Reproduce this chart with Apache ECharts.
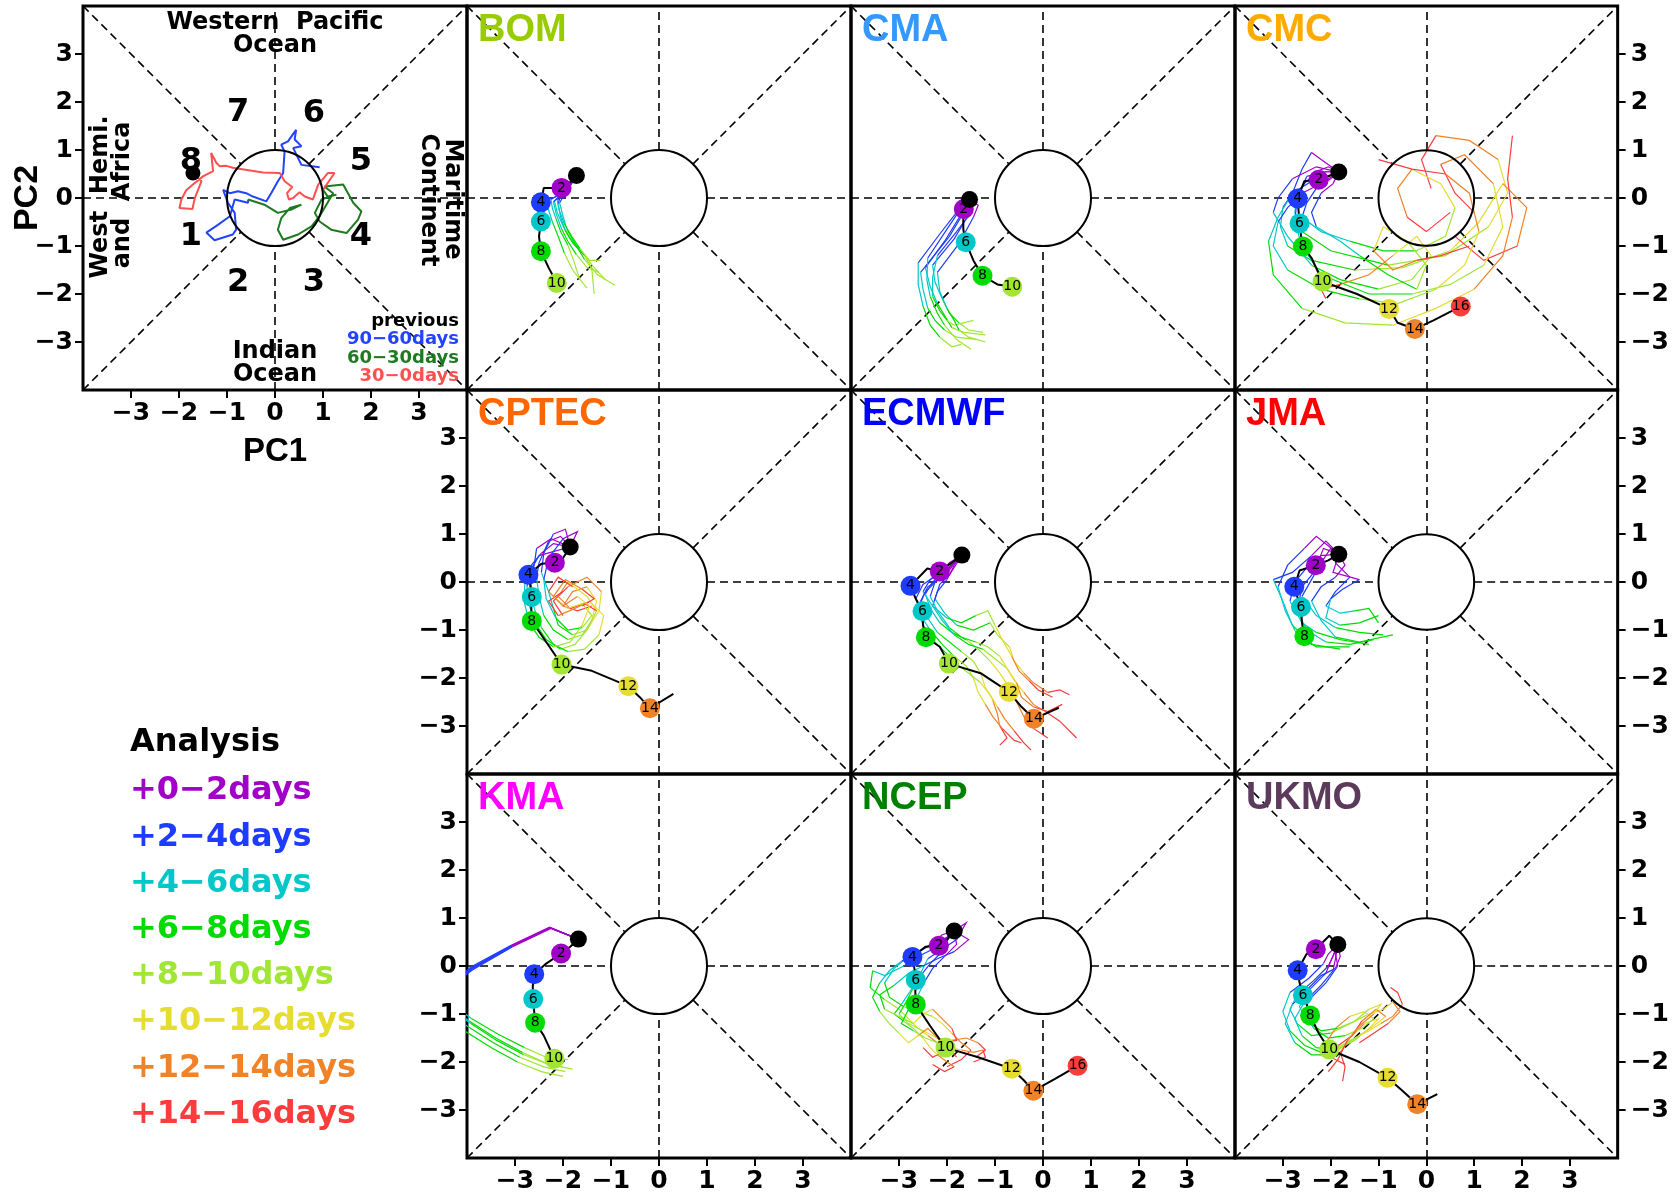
<!DOCTYPE html>
<html lang="en">
<head>
<meta charset="UTF-8">
<title>MJO phase diagram - ensemble forecasts</title>
<script src="https://cdn.jsdelivr.net/npm/echarts@6/dist/echarts.min.js"></script>
<style>
    html, body { margin: 0; padding: 0; background: #fff; }
    #container { width: 1672px; height: 1196px; }
</style>
</head>
<body>
<div id="container"></div>
<script>
    // lead-time colours: +0-2, +2-4, ... +14-16 days
    var leadColors = ['#a000c8', '#1e3cff', '#00c8c8', '#00dc00', '#a0e632', '#e6dc32', '#f08228', '#fa3c3c'];
    var leadLabels = ['+0\u22122days', '+2\u22124days', '+4\u22126days', '+6\u22128days',
                      '+8\u221210days', '+10\u221212days', '+12\u221214days', '+14\u221216days'];
    var tickValues = [-3, -2, -1, 0, 1, 2, 3];

    // phase numbers of the top-left diagram
    var phaseNames = ['1', '2', '3', '4', '5', '6', '7', '8'];
    var phaseX = [-1.75, -0.77, 0.81, 1.79, 1.79, 0.81, -0.77, -1.75];
    var phaseY = [-0.81, -1.77, -1.77, -0.81, 0.75, 1.75, 1.77, 0.75];

    // observed RMM index, previous 90 days
    var obsBlue = [[0.93,0.64],[0.55,0.69],[0.38,1.04],[0.55,1.08],[0.41,1.22],[0.44,1.42],[0.27,1.18],[0.13,1.11],[0.20,0.97],[0.17,0.52],[0.06,0.35],[-0.08,0.10],[-0.18,-0.07],[-0.46,0.03],[-0.60,0.10],[-0.77,0.14],[-0.94,0.10],[-1.08,0.17],[-0.98,-0.10],[-0.84,-0.31],[-0.81,-0.66],[-0.88,-0.76],[-1.26,-0.88],[-1.43,-0.72],[-1.19,-0.56],[-0.94,-0.38],[-0.84,-0.03],[-0.56,-0.10],[-0.56,-0.03]];
    var obsGreen = [[-0.56,-0.03],[-0.22,-0.14],[0.06,-0.31],[0.34,-0.24],[0.55,-0.14],[0.31,-0.21],[0.13,-0.42],[0.06,-0.66],[0.17,-0.87],[0.48,-0.76],[0.76,-0.59],[0.93,-0.38],[1.21,0.10],[1.03,0.24],[1.42,0.28],[1.63,-0.10],[1.80,-0.28],[1.73,-0.45],[1.49,-0.73],[1.17,-0.66],[0.93,-0.49],[0.83,-0.31],[0.97,-0.03],[1.14,0.03],[1.28,0.07],[1.10,0.03],[1.00,0.17]];
    var obsRed = [[1.00,0.17],[1.24,0.52],[1.10,0.52],[0.90,0.28],[0.79,-0.03],[0.62,0.03],[0.51,0.12],[0.38,0.00],[0.29,-0.03],[0.25,0.10],[0.36,0.23],[0.20,0.35],[0.10,0.52],[-0.25,0.53],[-0.88,0.63],[-1.01,0.67],[-1.15,0.66],[-1.22,0.73],[-1.33,0.94],[-1.36,0.94],[-1.29,0.56],[-1.50,0.45],[-1.71,0.28],[-1.85,0.16],[-1.95,-0.03],[-1.99,-0.21],[-1.72,-0.23],[-1.67,0.00],[-1.53,0.35],[-1.71,0.52]];

    var models = ['BOM', 'CMA', 'CMC', 'CPTEC', 'ECMWF', 'JMA', 'KMA', 'NCEP', 'UKMO'];
    var modelColors = ['#99cc00', '#3399ff', '#ffaa00', '#ff6600', '#0000ff', '#ff0000', '#ff00ff', '#008000', '#5c3a5c'];

    // BOM
    var bomAnalysis = [[-1.72,0.47],[-1.88,0.30],[-2.03,0.21],[-2.40,0.21],[-2.46,-0.09],[-2.46,-0.30],[-2.46,-0.49],[-2.50,-0.80],[-2.46,-1.11],[-2.30,-1.45],[-2.13,-1.77]];
    var bomMarks = [2, 4, 6, 8, 10];
    var bomMembers = [
        [[-1.72,0.47],[-1.83,0.31],[-1.95,0.17],[-2.10,0.06],[-2.25,-0.03],[-2.22,-0.22],[-2.15,-0.42],[-2.05,-0.70],[-1.90,-0.98],[-1.78,-1.30],[-1.65,-1.70]],
        [[-1.72,0.47],[-1.83,0.30],[-1.95,0.15],[-2.05,0.03],[-2.18,-0.06],[-2.12,-0.30],[-2.00,-0.58],[-1.85,-0.85],[-1.60,-1.12],[-1.38,-1.42],[-1.12,-1.70]],
        [[-1.72,0.47],[-1.82,0.32],[-1.93,0.14],[-2.00,0.02],[-2.07,-0.10],[-2.00,-0.38],[-1.92,-0.65],[-1.75,-0.95],[-1.55,-1.28],[-1.28,-1.60],[-0.92,-1.82]],
        [[-1.72,0.47],[-1.84,0.31],[-1.98,0.13],[-2.20,0.00],[-2.37,-0.04],[-2.30,-0.25],[-2.22,-0.50],[-2.10,-0.80],[-1.97,-1.15],[-1.80,-1.50],[-1.50,-1.88]],
        [[-1.72,0.47],[-1.84,0.30],[-1.96,0.12],[-2.07,-0.01],[-2.10,-0.12],[-2.05,-0.40],[-1.95,-0.68],[-1.78,-0.96],[-1.55,-1.20],[-1.40,-1.48],[-1.35,-2.00]],
        [[-1.72,0.47],[-1.83,0.31],[-1.94,0.16],[-2.08,0.04],[-2.20,-0.08],[-2.14,-0.33],[-2.04,-0.62],[-1.90,-0.90],[-1.72,-1.18],[-1.50,-1.45],[-1.25,-1.55]],
        [[-1.72,0.47],[-1.82,0.30],[-1.92,0.15],[-2.02,0.05],[-2.12,-0.05],[-2.08,-0.25],[-1.98,-0.52],[-1.82,-0.80],[-1.65,-1.05],[-1.45,-1.30],[-1.22,-1.30]]
    ];

    // CMA
    var cmaAnalysis = [[-1.53,-0.03],[-1.60,-0.12],[-1.65,-0.23],[-1.66,-0.45],[-1.66,-0.65],[-1.64,-0.78],[-1.61,-0.92],[-1.45,-1.30],[-1.26,-1.62],[-0.95,-1.80],[-0.64,-1.85]];
    var cmaMarks = [2, 6, 8, 10];
    var cmaMembers = [
        [[-1.53,-0.03],[-1.55,0.05],[-1.62,-0.25],[-1.95,-0.80],[-2.55,-1.55],[-2.50,-1.90],[-2.40,-2.30],[-2.25,-2.55],[-2.05,-2.75],[-1.80,-2.90],[-1.35,-2.95]],
        [[-1.53,-0.03],[-1.58,-0.10],[-1.68,-0.30],[-2.05,-0.90],[-2.45,-1.45],[-2.35,-1.85],[-2.20,-2.20],[-2.05,-2.45],[-1.90,-2.70],[-1.65,-2.80],[-1.20,-2.85]],
        [[-1.53,-0.03],[-1.50,-0.10],[-1.55,-0.35],[-1.85,-0.85],[-2.30,-1.40],[-2.25,-1.75],[-2.10,-2.10],[-1.95,-2.40],[-1.75,-2.60],[-1.55,-2.75],[-1.25,-2.80]],
        [[-1.53,-0.03],[-1.65,-0.15],[-1.80,-0.30],[-2.15,-0.75],[-2.60,-1.35],[-2.60,-1.80],[-2.50,-2.25],[-2.35,-2.65],[-2.15,-2.90],[-1.90,-3.10],[-1.70,-3.05]],
        [[-1.53,-0.03],[-1.45,-0.05],[-1.48,-0.28],[-1.80,-0.70],[-2.20,-1.20],[-2.30,-1.65],[-2.30,-2.05],[-2.15,-2.35],[-2.00,-2.55],[-1.85,-2.65],[-1.45,-2.55]],
        [[-1.53,-0.03],[-1.60,0.10],[-1.70,-0.20],[-2.00,-0.65],[-2.40,-1.25],[-2.42,-1.70],[-2.35,-2.05],[-2.20,-2.40],[-2.05,-2.65],[-1.80,-2.95],[-1.50,-3.15]],
        [[-1.53,-0.03],[-1.35,-0.15],[-1.45,-0.40],[-1.75,-0.95],[-2.20,-1.55],[-2.15,-1.95],[-2.00,-2.30],[-1.85,-2.55],[-1.75,-2.75],[-1.55,-2.90],[-1.20,-3.00]]
    ];

    // CMC
    var cmcAnalysis = [[-1.83,0.54],[-2.05,0.45],[-2.25,0.38],[-2.55,0.35],[-2.69,-0.01],[-2.67,-0.28],[-2.65,-0.53],[-2.62,-0.78],[-2.58,-1.01],[-2.40,-1.25],[-2.17,-1.74],[-1.45,-2.00],[-0.78,-2.31],[-0.60,-2.60],[-0.24,-2.73],[0.15,-2.55],[0.72,-2.26]];
    var cmcMarks = [2, 4, 6, 8, 10, 12, 14, 16];
    var cmcMembers = [
        [[-1.83,0.54],[-2.05,0.65],[-2.30,0.55],[-2.55,0.30],[-2.70,0.05],[-2.75,-0.30],[-2.60,-0.70],[-2.00,-1.10],[-0.80,-1.40],[0.40,-1.20],[1.30,-0.60],[1.70,0.10],[1.50,0.80],[0.90,1.20],[0.20,1.30],[-0.10,0.80],[0.10,0.20]],
        [[-1.83,0.54],[-2.10,0.45],[-2.40,0.35],[-2.80,0.10],[-3.00,-0.20],[-3.05,-0.60],[-2.90,-1.00],[-2.40,-1.30],[-1.50,-1.50],[-0.50,-1.45],[0.50,-1.10],[1.10,-0.50],[1.60,0.30],[2.10,-0.20],[1.90,-1.00],[1.20,-1.30],[0.60,-0.80]],
        [[-1.83,0.54],[-2.20,0.80],[-2.40,0.95],[-2.60,0.60],[-2.80,0.10],[-3.10,-0.40],[-3.30,-0.90],[-3.20,-1.60],[-2.60,-2.30],[-1.70,-2.60],[-0.70,-2.65],[0.20,-2.30],[1.00,-1.90],[1.60,-1.20],[1.80,-0.40],[1.70,0.40],[1.80,1.30]],
        [[-1.83,0.54],[-2.00,0.40],[-2.30,0.20],[-2.50,-0.10],[-2.60,-0.40],[-2.20,-0.70],[-1.60,-0.90],[-0.90,-1.10],[-0.20,-1.10],[0.40,-0.80],[0.60,-0.20],[0.30,0.30],[-0.30,0.60],[-0.60,0.20],[-0.40,-0.40],[0.00,-0.70],[0.50,-0.30]],
        [[-1.83,0.54],[-2.30,0.65],[-2.80,0.40],[-3.10,0.00],[-3.20,-0.30],[-2.90,-0.80],[-2.40,-1.40],[-1.80,-1.70],[-1.00,-1.90],[-0.30,-1.70],[0.10,-1.20],[-0.20,-0.80],[-0.70,-1.20],[-1.20,-1.60],[-1.80,-1.80],[-2.20,-1.90],[-2.10,-2.10]],
        [[-1.83,0.54],[-2.10,0.55],[-2.50,0.45],[-2.70,0.00],[-2.75,-0.50],[-2.60,-1.00],[-2.20,-1.60],[-1.20,-2.00],[-0.30,-2.00],[0.50,-1.80],[1.20,-1.40],[1.60,-0.60],[1.40,0.30],[0.80,0.90],[0.30,0.70],[0.60,0.10],[1.00,-0.30]],
        [[-1.83,0.54],[-1.95,0.30],[-2.20,0.10],[-2.40,-0.30],[-2.30,-0.60],[-1.80,-0.90],[-1.40,-1.20],[-0.80,-1.60],[-0.20,-1.90],[0.00,-1.40],[-0.40,-0.90],[-0.90,-0.60],[-1.10,-1.10],[-0.70,-1.50],[-0.20,-1.30],[0.30,-1.20],[0.90,-1.00]],
        [[-1.83,0.54],[-2.20,0.30],[-2.60,0.10],[-2.90,-0.20],[-3.10,-0.50],[-3.20,-1.00],[-2.90,-1.50],[-2.20,-1.90],[-1.40,-2.10],[-0.60,-2.20],[0.20,-1.90],[0.80,-1.40],[1.10,-0.70],[0.90,0.10],[0.40,0.50],[-0.30,0.60],[-1.00,0.80]]
    ];

    // CPTEC
    var cptecAnalysis = [[-1.85,0.73],[-2.00,0.50],[-2.17,0.40],[-2.45,0.38],[-2.72,0.15],[-2.68,-0.08],[-2.65,-0.31],[-2.66,-0.55],[-2.65,-0.81],[-2.35,-1.25],[-2.03,-1.72],[-1.40,-1.85],[-0.64,-2.17],[-0.40,-2.40],[-0.19,-2.63],[0.30,-2.33]];
    var cptecMarks = [2, 4, 6, 8, 10, 12, 14];
    var cptecMembers = [
        [[-1.85,0.73],[-2.05,0.95],[-2.30,0.85],[-2.50,0.40],[-2.55,0.10],[-2.50,-0.30],[-2.40,-0.70],[-2.20,-1.00],[-1.90,-1.20],[-1.60,-1.10],[-1.40,-0.80],[-1.30,-0.40],[-1.50,-0.10],[-1.80,-0.20],[-2.00,-0.50],[-1.70,-0.60],[-1.40,-0.50]],
        [[-1.85,0.73],[-2.20,0.80],[-2.45,0.60],[-2.70,0.30],[-2.75,-0.10],[-2.70,-0.50],[-2.55,-0.90],[-2.35,-1.20],[-2.05,-1.40],[-1.75,-1.30],[-1.50,-1.00],[-1.25,-0.60],[-1.20,-0.20],[-1.50,0.10],[-1.90,-0.10],[-2.20,-0.40],[-2.00,-0.70]],
        [[-1.85,0.73],[-1.95,1.10],[-2.20,1.00],[-2.40,0.60],[-2.45,0.20],[-2.30,-0.20],[-2.20,-0.55],[-2.10,-0.90],[-1.80,-1.10],[-1.50,-1.00],[-1.30,-0.60],[-1.50,-0.30],[-1.90,0.00],[-2.10,-0.30],[-1.85,-0.55],[-1.55,-0.45],[-1.30,-0.60]],
        [[-1.85,0.73],[-2.15,0.65],[-2.50,0.55],[-2.70,0.20],[-2.65,-0.20],[-2.60,-0.55],[-2.45,-0.95],[-2.20,-1.30],[-1.90,-1.45],[-1.55,-1.40],[-1.25,-1.10],[-1.15,-0.70],[-1.45,-0.40],[-1.75,-0.55],[-2.10,-0.70],[-2.30,-0.40],[-2.00,-0.20]],
        [[-1.85,0.73],[-1.70,1.05],[-2.00,0.90],[-2.30,0.50],[-2.40,0.05],[-2.35,-0.35],[-2.15,-0.75],[-1.90,-1.00],[-1.60,-0.95],[-1.40,-0.70],[-1.60,-0.45],[-1.90,-0.55],[-2.20,-0.30],[-1.95,0.05],[-1.60,-0.15],[-1.35,-0.35],[-1.60,-0.50]],
        [[-1.85,0.73],[-2.25,0.90],[-2.55,0.70],[-2.60,0.35],[-2.80,-0.05],[-2.80,-0.45],[-2.70,-0.85],[-2.50,-1.15],[-2.20,-1.35],[-1.85,-1.25],[-1.60,-0.90],[-1.45,-0.50],[-1.70,-0.30],[-2.00,-0.50],[-2.30,-0.20],[-2.10,0.10],[-1.80,-0.10]]
    ];

    // ECMWF
    var ecmwfAnalysis = [[-1.69,0.56],[-1.90,0.40],[-2.15,0.22],[-2.41,0.28],[-2.76,-0.08],[-2.65,-0.35],[-2.51,-0.61],[-2.50,-0.90],[-2.44,-1.15],[-2.15,-1.35],[-1.96,-1.70],[-1.30,-1.90],[-0.71,-2.29],[-0.45,-2.60],[-0.19,-2.85],[0.33,-2.62]];
    var ecmwfMarks = [2, 4, 6, 8, 10, 12, 14];
    var ecmwfMembers = [
        [[-1.69,0.56],[-1.85,0.40],[-2.05,0.20],[-2.30,0.00],[-2.45,-0.25],[-2.35,-0.55],[-2.15,-0.85],[-1.90,-1.05],[-1.60,-1.20],[-1.35,-1.40],[-1.10,-1.65],[-0.90,-1.90],[-0.70,-2.20],[-0.55,-2.50],[-0.40,-2.80],[-0.20,-3.05],[0.10,-3.25]],
        [[-1.69,0.56],[-1.90,0.35],[-2.10,0.10],[-2.40,-0.10],[-2.55,-0.40],[-2.40,-0.75],[-2.20,-1.05],[-1.95,-1.25],[-1.70,-1.45],[-1.45,-1.65],[-1.30,-1.90],[-1.20,-2.20],[-1.05,-2.45],[-0.95,-2.75],[-0.90,-3.00],[-0.75,-3.25],[-0.90,-3.40]],
        [[-1.69,0.56],[-1.80,0.38],[-1.95,0.15],[-2.15,-0.05],[-2.25,-0.35],[-2.05,-0.65],[-1.80,-0.90],[-1.45,-1.00],[-1.10,-0.85],[-0.95,-1.10],[-0.70,-1.35],[-0.60,-1.65],[-0.40,-1.90],[-0.20,-2.10],[0.10,-2.30],[0.35,-2.25],[0.55,-2.35]],
        [[-1.69,0.56],[-1.95,0.40],[-2.20,0.15],[-2.50,-0.05],[-2.65,-0.35],[-2.55,-0.70],[-2.35,-1.00],[-2.10,-1.30],[-1.85,-1.55],[-1.60,-1.75],[-1.45,-2.00],[-1.35,-2.30],[-1.20,-2.55],[-1.05,-2.80],[-0.85,-3.05],[-0.60,-3.30],[-0.45,-3.35]],
        [[-1.69,0.56],[-1.85,0.35],[-2.00,0.05],[-2.20,-0.20],[-2.30,-0.50],[-2.10,-0.80],[-1.85,-1.10],[-1.55,-1.30],[-1.25,-1.40],[-1.00,-1.60],[-0.75,-1.80],[-0.60,-2.05],[-0.40,-2.30],[-0.20,-2.55],[0.05,-2.70],[0.35,-2.90],[0.70,-3.25]],
        [[-1.69,0.56],[-1.88,0.42],[-2.12,0.25],[-2.35,0.05],[-2.50,-0.20],[-2.30,-0.50],[-2.00,-0.75],[-1.70,-0.85],[-1.40,-0.70],[-1.15,-0.60],[-1.00,-0.90],[-0.85,-1.20],[-0.65,-1.55],[-0.50,-1.85],[-0.30,-2.05],[-0.10,-2.25],[0.20,-2.40]],
        [[-1.69,0.56],[-1.92,0.35],[-2.18,0.05],[-2.45,-0.20],[-2.60,-0.55],[-2.50,-0.90],[-2.30,-1.20],[-2.05,-1.45],[-1.80,-1.70],[-1.55,-1.90],[-1.30,-2.10],[-1.10,-2.35],[-0.95,-2.60],[-0.80,-2.85],[-0.60,-3.10],[-0.40,-3.35],[-0.25,-3.50]],
        [[-1.69,0.56],[-1.82,0.42],[-2.00,0.18],[-2.25,0.00],[-2.35,-0.30],[-2.20,-0.60],[-1.95,-0.95],[-1.70,-1.15],[-1.40,-1.25],[-1.15,-1.35],[-0.90,-1.55],[-0.75,-1.80],[-0.55,-2.10],[-0.45,-2.40],[-0.20,-2.60],[0.10,-2.70],[0.40,-2.55]]
    ];

    // JMA
    var jmaAnalysis = [[-1.83,0.58],[-2.05,0.45],[-2.31,0.35],[-2.65,0.24],[-2.76,-0.10],[-2.70,-0.30],[-2.62,-0.52],[-2.60,-0.85],[-2.55,-1.13]];
    var jmaMarks = [2, 4, 6, 8];
    var jmaMembers = [
        [[-1.83,0.58],[-2.10,0.85],[-2.40,0.55],[-2.80,0.20],[-3.20,0.05],[-3.00,-0.40],[-2.80,-0.90],[-2.40,-1.30],[-1.80,-1.40]],
        [[-1.83,0.58],[-2.00,0.70],[-2.20,0.40],[-2.40,0.05],[-2.60,-0.30],[-2.30,-0.70],[-1.90,-0.95],[-1.40,-1.05],[-0.90,-1.10]],
        [[-1.83,0.58],[-1.70,0.35],[-1.90,0.10],[-2.20,-0.10],[-2.40,-0.40],[-2.20,-0.80],[-1.90,-1.15],[-1.40,-1.25],[-0.70,-1.10]],
        [[-1.83,0.58],[-2.30,0.95],[-2.55,0.70],[-2.90,0.35],[-3.10,-0.10],[-2.95,-0.60],[-2.70,-1.10],[-2.30,-1.35],[-1.60,-1.35]],
        [[-1.83,0.58],[-1.90,0.40],[-1.60,0.10],[-1.90,-0.20],[-2.10,-0.50],[-1.80,-0.65],[-1.50,-0.60],[-1.20,-0.55],[-1.00,-0.85]],
        [[-1.83,0.58],[-2.20,0.55],[-2.50,0.30],[-2.75,0.00],[-2.85,-0.40],[-2.60,-0.85],[-2.30,-1.05],[-1.80,-1.20],[-1.20,-1.30]],
        [[-1.83,0.58],[-1.95,0.20],[-1.40,0.05],[-1.75,-0.15],[-2.00,-0.35],[-2.10,-0.75],[-1.80,-0.90],[-1.40,-0.85],[-1.00,-0.70]],
        [[-1.83,0.58],[-2.15,0.70],[-2.35,0.20],[-2.60,-0.10],[-2.70,-0.60],[-2.50,-1.00],[-2.10,-1.25],[-1.60,-1.30],[-1.10,-1.20]]
    ];

    // KMA
    var kmaAnalysis = [[-1.68,0.56],[-1.85,0.40],[-2.04,0.26],[-2.35,0.05],[-2.60,-0.17],[-2.63,-0.43],[-2.62,-0.69],[-2.60,-0.95],[-2.58,-1.18],[-2.40,-1.45],[-2.18,-1.93]];
    var kmaMarks = [2, 4, 6, 8, 10];
    var kmaMembers = [
        [[-1.68,0.56],[-2.27,0.80],[-3.07,0.42],[-3.90,-0.05],[-4.40,-0.45],[-4.35,-0.85],[-3.95,-1.15],[-3.40,-1.50],[-2.85,-1.80],[-2.40,-2.00],[-2.00,-2.10]],
        [[-1.68,0.56],[-2.25,0.78],[-3.05,0.40],[-3.88,-0.08],[-4.45,-0.50],[-4.40,-0.95],[-4.00,-1.25],[-3.45,-1.60],[-2.90,-1.90],[-2.40,-2.10],[-1.95,-2.20]],
        [[-1.68,0.56],[-2.28,0.81],[-3.08,0.43],[-3.92,-0.02],[-4.35,-0.40],[-4.30,-0.80],[-3.90,-1.10],[-3.35,-1.42],[-2.80,-1.70],[-2.35,-1.90],[-1.90,-1.95]],
        [[-1.68,0.56],[-2.26,0.79],[-3.06,0.41],[-3.89,-0.06],[-4.50,-0.55],[-4.45,-1.00],[-4.05,-1.35],[-3.50,-1.70],[-2.95,-2.00],[-2.45,-2.20],[-2.00,-2.30]],
        [[-1.68,0.56],[-2.27,0.80],[-3.07,0.42],[-3.91,-0.04],[-4.38,-0.48],[-4.32,-0.90],[-3.92,-1.20],[-3.38,-1.55],[-2.82,-1.85],[-2.30,-2.05],[-1.80,-2.15]]
    ];

    // NCEP
    var ncepAnalysis = [[-1.85,0.73],[-2.00,0.55],[-2.17,0.42],[-2.45,0.40],[-2.72,0.19],[-2.68,-0.05],[-2.65,-0.29],[-2.66,-0.55],[-2.65,-0.80],[-2.35,-1.25],[-2.03,-1.70],[-1.35,-1.90],[-0.65,-2.14],[-0.40,-2.38],[-0.20,-2.60],[0.25,-2.35],[0.72,-2.08]];
    var ncepMarks = [2, 4, 6, 8, 10, 12, 14, 16];
    var ncepMembers = [
        [[-1.85,0.73],[-1.75,0.85],[-2.00,0.60],[-2.40,0.40],[-2.80,0.20],[-3.10,-0.05],[-3.30,-0.35],[-3.20,-0.65],[-2.90,-0.85],[-2.60,-0.95],[-2.30,-1.05],[-2.10,-1.20],[-1.90,-1.40],[-1.70,-1.60],[-1.50,-1.75],[-1.70,-1.95],[-2.00,-2.10]],
        [[-1.85,0.73],[-2.05,0.55],[-2.30,0.35],[-2.60,0.20],[-2.90,0.00],[-3.30,-0.20],[-3.55,-0.10],[-3.60,-0.45],[-3.30,-0.70],[-3.00,-0.90],[-2.80,-1.10],[-2.60,-1.30],[-2.40,-1.45],[-2.20,-1.60],[-2.10,-1.80],[-2.30,-1.90],[-2.50,-1.70]],
        [[-1.85,0.73],[-1.60,0.90],[-1.80,0.55],[-2.10,0.35],[-2.40,0.15],[-2.55,-0.15],[-2.70,-0.45],[-2.85,-0.75],[-3.00,-1.00],[-2.80,-1.20],[-2.50,-1.35],[-2.20,-1.50],[-1.90,-1.55],[-1.60,-1.50],[-1.35,-1.60],[-1.20,-1.75],[-1.40,-1.90]],
        [[-1.85,0.73],[-1.95,0.60],[-2.15,0.25],[-2.35,0.05],[-2.55,-0.20],[-2.75,-0.50],[-2.95,-0.80],[-3.10,-1.00],[-2.90,-1.15],[-2.70,-1.30],[-2.50,-1.50],[-2.35,-1.70],[-2.20,-1.85],[-2.00,-2.00],[-1.85,-2.10],[-2.05,-2.20],[-2.30,-2.05]],
        [[-1.85,0.73],[-1.55,0.55],[-1.85,0.30],[-2.20,0.15],[-2.50,0.00],[-2.80,-0.15],[-3.10,-0.40],[-3.40,-0.60],[-3.30,-0.90],[-3.00,-1.05],[-2.70,-1.20],[-2.50,-1.00],[-2.30,-0.90],[-2.10,-1.10],[-1.90,-1.30],[-1.80,-1.55],[-2.10,-1.60]],
        [[-1.85,0.73],[-2.10,0.65],[-2.35,0.45],[-2.65,0.25],[-2.95,0.10],[-3.20,-0.10],[-3.40,-0.35],[-3.55,-0.65],[-3.40,-0.95],[-3.20,-1.20],[-3.00,-1.40],[-2.80,-1.60],[-2.60,-1.45],[-2.40,-1.30],[-2.20,-1.50],[-2.00,-1.70],[-1.80,-1.90]],
        [[-1.85,0.73],[-1.80,0.45],[-2.05,0.20],[-2.30,-0.05],[-2.45,-0.30],[-2.60,-0.60],[-2.80,-0.90],[-2.95,-1.20],[-2.70,-1.35],[-2.45,-1.50],[-2.20,-1.60],[-1.95,-1.70],[-1.70,-1.75],[-1.45,-1.80],[-1.25,-1.75],[-1.20,-1.90],[-1.45,-2.00]]
    ];

    // UKMO
    var ukmoAnalysis = [[-1.85,0.45],[-2.03,0.63],[-2.31,0.35],[-2.51,0.24],[-2.69,-0.09],[-2.65,-0.35],[-2.58,-0.61],[-2.50,-0.80],[-2.43,-1.03],[-2.25,-1.40],[-2.03,-1.74],[-1.40,-2.00],[-0.81,-2.33],[-0.50,-2.60],[-0.19,-2.88],[0.23,-2.67]];
    var ukmoMarks = [2, 4, 6, 8, 10, 12, 14];
    var ukmoMembers = [
        [[-1.85,0.45],[-1.95,0.20],[-2.05,0.00],[-2.35,-0.30],[-2.70,-0.60],[-2.85,-0.90],[-2.70,-1.20],[-2.40,-1.45],[-2.00,-1.40],[-1.60,-1.20],[-1.20,-1.00],[-0.90,-0.90],[-0.70,-0.75],[-0.55,-0.95],[-0.80,-1.20],[-1.10,-1.40],[-1.40,-1.60]],
        [[-1.85,0.45],[-1.90,0.15],[-1.95,-0.10],[-2.20,-0.40],[-2.55,-0.75],[-2.75,-1.10],[-2.60,-1.45],[-2.30,-1.70],[-1.90,-1.75],[-1.50,-1.55],[-1.20,-1.30],[-1.00,-1.10],[-1.30,-1.20],[-1.60,-1.50],[-1.80,-1.80],[-1.70,-2.10],[-1.75,-2.40]],
        [[-1.85,0.45],[-2.05,0.25],[-2.15,0.05],[-2.45,-0.25],[-2.85,-0.55],[-3.00,-0.95],[-2.85,-1.35],[-2.55,-1.65],[-2.20,-1.80],[-1.85,-1.70],[-1.50,-1.50],[-1.20,-1.35],[-0.95,-1.20],[-0.70,-1.05],[-0.50,-0.80],[-0.60,-0.55],[-0.75,-0.45]],
        [[-1.85,0.45],[-1.90,0.25],[-1.85,0.00],[-2.10,-0.35],[-2.45,-0.70],[-2.55,-1.00],[-2.35,-1.30],[-2.05,-1.50],[-1.70,-1.45],[-1.35,-1.30],[-1.10,-1.10],[-1.30,-0.95],[-1.60,-1.05],[-1.90,-1.30],[-2.10,-1.60],[-2.00,-1.90],[-1.70,-2.05]],
        [[-1.85,0.45],[-2.00,0.10],[-2.10,-0.15],[-2.40,-0.45],[-2.80,-0.80],[-2.95,-1.20],[-2.75,-1.60],[-2.40,-1.85],[-2.00,-1.85],[-1.70,-1.65],[-1.40,-1.45],[-1.10,-1.25],[-0.85,-1.05],[-1.05,-0.90],[-1.35,-1.15],[-1.55,-1.45],[-1.90,-1.70]],
        [[-1.85,0.45],[-1.80,0.20],[-1.90,-0.05],[-2.20,-0.20],[-2.50,-0.50],[-2.65,-0.85],[-2.50,-1.15],[-2.20,-1.35],[-1.85,-1.30],[-1.50,-1.15],[-1.20,-0.90],[-0.95,-0.80],[-1.10,-1.00],[-1.40,-1.25],[-1.65,-1.55],[-1.85,-1.95],[-2.05,-2.20]]
    ];

    var analyses = [bomAnalysis, cmaAnalysis, cmcAnalysis, cptecAnalysis, ecmwfAnalysis, jmaAnalysis, kmaAnalysis, ncepAnalysis, ukmoAnalysis];
    var members = [bomMembers, cmaMembers, cmcMembers, cptecMembers, ecmwfMembers, jmaMembers, kmaMembers, ncepMembers, ukmoMembers];
    var marks = [bomMarks, cmaMarks, cmcMarks, cptecMarks, ecmwfMarks, jmaMarks, kmaMarks, ncepMarks, ukmoMarks];

    // dashed phase boundaries, drawn outside the unit circle
    var guideSegments = [
        [[-4, 0], [-1, 0]], [[1, 0], [4, 0]], [[0, -4], [0, -1]], [[0, 1], [0, 4]],
        [[-4, -4], [-0.707, -0.707]], [[0.707, 0.707], [4, 4]],
        [[-4, 4], [-0.707, 0.707]], [[0.707, -0.707], [4, -4]]
    ];

    //初始化
    var chart = echarts.init(document.getElementById('container'));

    var SIZE = 384, LEFT0 = 83, TOP0 = 6;
    var grids = [], xAxes = [], yAxes = [], series = [];

    function fmt(v)
    {
        return v < 0 ? '\u2212' + Math.abs(v) : String(v);
    }

    function labelStyle(show, margin)
    {
        return {
            show: show, customValues: tickValues, margin: margin, formatter: fmt,
            color: '#000', fontFamily: 'DejaVu Sans', fontWeight: 'bold', fontSize: 25
        };
    }

    function tickStyle(show)
    {
        return { show: show, customValues: tickValues, length: 8, lineStyle: { color: '#000', width: 2 } };
    }

    function addPanel(idx, col, row, yPos, showY, showX)
    {
        grids.push({
            left: LEFT0 + col * SIZE, top: TOP0 + row * SIZE, width: SIZE, height: SIZE,
            show: true, borderColor: '#000', borderWidth: 3, backgroundColor: 'transparent'
        });
        xAxes.push({
            gridIndex: idx, type: 'value', min: -4, max: 4, interval: 1, position: 'bottom',
            axisLine: { show: false, onZero: false }, splitLine: { show: false },
            axisTick: tickStyle(showX), axisLabel: labelStyle(showX, 11)
        });
        yAxes.push({
            gridIndex: idx, type: 'value', min: -4, max: 4, interval: 1, position: yPos,
            axisLine: { show: false, onZero: false }, splitLine: { show: false },
            axisTick: tickStyle(showY), axisLabel: labelStyle(showY, yPos === 'right' ? 13 : 10)
        });
        series.push({
            type: 'lines', coordinateSystem: 'cartesian2d', xAxisIndex: idx, yAxisIndex: idx,
            silent: true, z: 1,
            lineStyle: { color: '#000', width: 1.6, type: [8, 5], opacity: 1 },
            data: guideSegments.map(function (s) { return { coords: s }; })
        });
    }

    // panel 0: observed phase diagram
    addPanel(0, 0, 0, 'left', true, true);
    [[obsBlue, '#2244ff'], [obsGreen, '#1e7a1e'], [obsRed, '#ff5050']].forEach(function (o)
    {
        series.push({
            type: 'line', xAxisIndex: 0, yAxisIndex: 0, data: o[0], symbol: 'none',
            lineStyle: { color: o[1], width: 2 }, z: 3, silent: true
        });
    });
    series.push({
        type: 'scatter', xAxisIndex: 0, yAxisIndex: 0, z: 4, symbolSize: 15,
        itemStyle: { color: '#000', opacity: 1 }, data: [obsRed[obsRed.length - 1]]
    });
    series.push({
        type: 'scatter', xAxisIndex: 0, yAxisIndex: 0, z: 5, symbolSize: 1,
        itemStyle: { color: 'rgba(0,0,0,0)', opacity: 1 },
        data: phaseNames.map(function (n, i) { return { value: [phaseX[i], phaseY[i]], label: { formatter: n } }; }),
        label: { show: true, position: 'inside', color: '#000', fontSize: 32, fontWeight: 'bold', fontFamily: 'DejaVu Sans' }
    });

    // forecast panels
    models.forEach(function (name, i)
    {
        var g = i + 1;
        var row = Math.floor(i / 3), col = i % 3 + 1;
        var yPos = col === 3 ? 'right' : 'left';
        var showY = col === 1 ? row > 0 : col === 3;
        var showX = row === 2;
        addPanel(g, col, row, yPos, showY, showX);

        var segs = [];
        members[i].forEach(function (m)
        {
            for (var k = 0; 2 * k + 1 < m.length; k++)
            {
                segs.push({ coords: m.slice(2 * k, 2 * k + 3), lineStyle: { color: leadColors[k] } });
            }
        });
        series.push({
            type: 'lines', coordinateSystem: 'cartesian2d', xAxisIndex: g, yAxisIndex: g,
            polyline: true, clip: true, silent: true, z: 2,
            lineStyle: { width: 1.2, opacity: 1 }, data: segs
        });
        series.push({
            type: 'line', xAxisIndex: g, yAxisIndex: g, data: analyses[i], symbol: 'none',
            lineStyle: { color: '#000', width: 2 }, z: 3, silent: true
        });
        series.push({
            type: 'scatter', xAxisIndex: g, yAxisIndex: g, z: 4, symbolSize: 20,
            itemStyle: { opacity: 1 },
            data: marks[i].map(function (d)
            {
                return { value: analyses[i][d], itemStyle: { color: leadColors[d / 2 - 1], opacity: 1 }, label: { formatter: String(d) } };
            }),
            label: { show: true, position: 'inside', color: '#000', fontSize: 14, fontFamily: 'DejaVu Sans' }
        });
        series.push({
            type: 'scatter', xAxisIndex: g, yAxisIndex: g, z: 4, symbolSize: 17,
            itemStyle: { color: '#000', opacity: 1 }, data: [analyses[i][0]]
        });
    });

    chart.setOption({
        animation: false,
        backgroundColor: '#fff',
        grid: grids,
        xAxis: xAxes,
        yAxis: yAxes,
        series: series
    });

    // texts and unit circles
    var BOLD = 'bold 24px "DejaVu Sans"';
    var graphics = [];

    function text(x, y, s, font, color, align, rotation)
    {
        graphics.push({
            type: 'text', x: x, y: y, rotation: rotation || 0, z: 10, silent: true,
            style: { text: s, font: font, fill: color, align: align || 'center', verticalAlign: 'middle' }
        });
    }

    text(275, 23, 'Western  Pacific', BOLD, '#000');
    text(275, 46, 'Ocean', BOLD, '#000');
    text(275, 352, 'Indian', BOLD, '#000');
    text(275, 375, 'Ocean', BOLD, '#000');
    text(101, 197, 'West  Hemi.', BOLD, '#000', 'center', Math.PI / 2);
    text(123, 195, 'and  Africa', BOLD, '#000', 'center', Math.PI / 2);
    text(452, 199, 'Maritime', BOLD, '#000', 'center', -Math.PI / 2);
    text(428, 200, 'Continent', BOLD, '#000', 'center', -Math.PI / 2);
    text(275, 452, 'PC1', 'bold 33px "Liberation Sans"', '#000');
    text(28, 198, 'PC2', 'bold 34px "Liberation Sans"', '#000', 'center', Math.PI / 2);

    var prevLabels = ['previous', '90\u221260days', '60\u221230days', '30\u22120days'];
    var prevColors = ['#000', '#2244ff', '#1e7a1e', '#ff5050'];
    prevLabels.forEach(function (s, i)
    {
        text(459, 321 + 18.5 * i, s, 'bold 18px "DejaVu Sans"', prevColors[i], 'right');
    });

    models.forEach(function (name, i)
    {
        var row = Math.floor(i / 3), col = i % 3 + 1;
        text(LEFT0 + col * SIZE + 11, TOP0 + row * SIZE + 25, name, 'bold 38px "Liberation Sans"', modelColors[i], 'left');
    });

    text(130, 743, 'Analysis', 'bold 32px "DejaVu Sans"', '#000', 'left');
    leadLabels.forEach(function (s, i)
    {
        text(130, 791 + 46.2 * i, s, 'bold 32px "DejaVu Sans"', leadColors[i], 'left');
    });

    for (var g = 0; g < 10; g++)
    {
        var c = chart.convertToPixel({ gridIndex: g }, [0, 0]);
        var e = chart.convertToPixel({ gridIndex: g }, [1, 0]);
        graphics.push({
            type: 'circle', z: 5, silent: true,
            shape: { cx: c[0], cy: c[1], r: e[0] - c[0] },
            style: { fill: 'none', stroke: '#000', lineWidth: 2 }
        });
    }

    chart.setOption({ graphic: graphics });
</script>
</body>
</html>
